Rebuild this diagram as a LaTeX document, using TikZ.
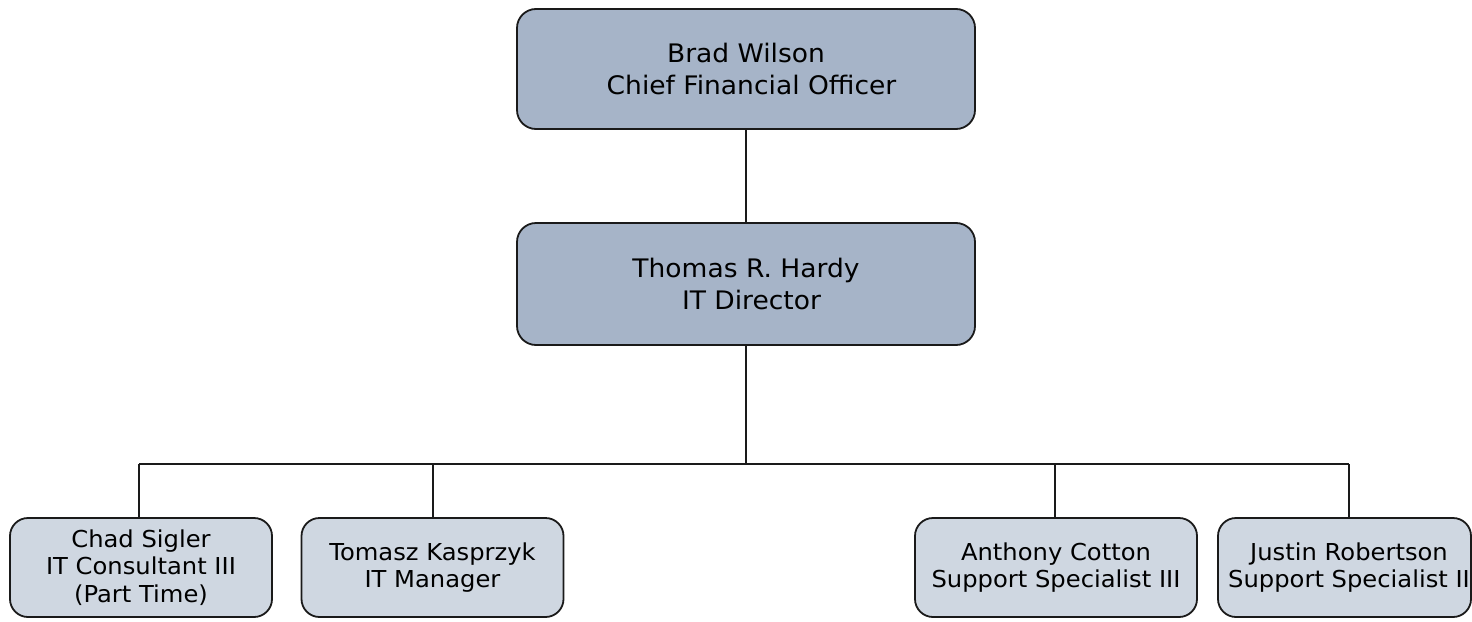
\documentclass[tikz,border=0pt]{standalone}
\usepackage{fontspec}
\setmainfont[FakeStretch=1.04]{DejaVu Sans}
\definecolor{topfill}{HTML}{A6B4C8}
\definecolor{lowfill}{HTML}{CFD7E1}
\definecolor{edge}{HTML}{1A1A1A}
\tikzset{
  bigbox/.style={draw=edge, line width=1.8pt, fill=topfill, rounded corners=19pt,
    minimum width=458pt, minimum height=120pt, inner sep=0pt, align=center,
    font=\fontsize{25.5}{32}\selectfont},
  smallbox/.style={draw=edge, line width=1.8pt, fill=lowfill, rounded corners=18pt,
    minimum height=99pt, inner sep=0pt, align=center,
    font=\fontsize{23.3}{27.5}\selectfont},
  plaintext/.style={inner sep=0pt, align=center, font=\fontsize{23.3}{27.5}\selectfont},
  link/.style={draw=edge, line width=2pt}
}
\begin{document}
\begin{tikzpicture}[x=1pt,y=-1pt]
\useasboundingbox (0,0) rectangle (1472,621);
\fill[white] (0,0) rectangle (1472,621);

\node[bigbox] (cfo) at (746,69) {Brad Wilson\\\hspace*{11pt}Chief Financial Officer};
\node[bigbox, minimum height=122pt] (dir) at (746,284) {Thomas R. Hardy\\\hspace*{11pt}IT Director};

\node[smallbox, minimum width=262pt] (chad) at (141,567.5) {Chad Sigler\\IT Consultant III\\(Part Time)};
\node[smallbox, minimum width=262pt] (tomasz) at (432.5,567.5) {Tomasz Kasprzyk\\IT Manager};
\node[smallbox, minimum width=282pt] (anthony) at (1056,567.5) {Anthony Cotton\\Support Specialist III};
\node[smallbox, minimum width=253pt] (justin) at (1344.5,567.5) {};
\node[plaintext] (justintext) at (1349,567.5) {Justin Robertson\\Support Specialist II};

\coordinate (hub) at (746,464);
\coordinate (jchad) at (139,464);
\coordinate (jtom) at (433,464);
\coordinate (jant) at (1055,464);
\coordinate (jjus) at (1349,464);

\draw[link] (cfo.south) -- (dir.north);
\draw[link] (dir.south) -- (hub);
\draw[link] (jchad) -- (jjus);
\draw[link] (jchad) -- (jchad |- chad.north);
\draw[link] (jtom) -- (jtom |- tomasz.north);
\draw[link] (jant) -- (jant |- anthony.north);
\draw[link] (jjus) -- (jjus |- justin.north);
\end{tikzpicture}
\end{document}
